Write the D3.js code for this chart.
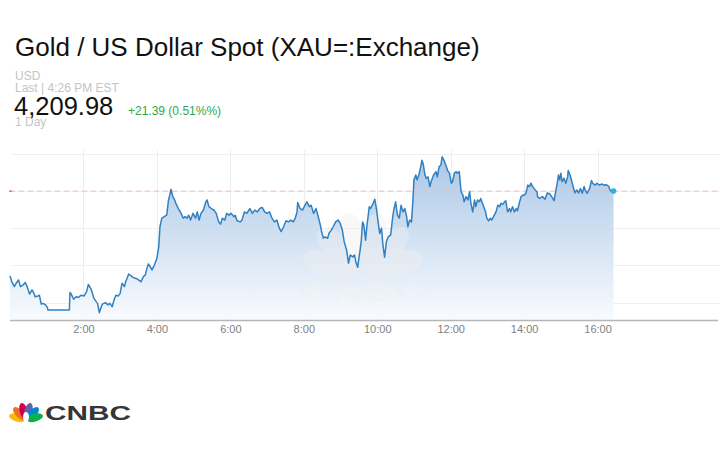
<!DOCTYPE html>
<html>
<head>
<meta charset="utf-8">
<script src="https://cdn.jsdelivr.net/npm/d3@7"></script>
<style>
  body { margin: 0; background: #fff; }
  svg { display: block; font-family: "Liberation Sans", Arial, sans-serif; }
</style>
</head>
<body>
<svg id="chart" width="720" height="450"></svg>
<script>
const width = 720;
const height = 450;

const title = "Gold / US Dollar Spot (XAU=:Exchange)";
const currency = "USD";
const lastLabel = "Last | 4:26 PM EST";
const lastPrice = 4209.98;
const changeLabel = "+21.39 (0.51%%)";
const rangeLabel = "1 Day";

// x ticks, minutes after midnight (EST)
const tickMinutes = [120, 240, 360, 480, 600, 720, 840, 960];
// horizontal grid levels
const gridPrices = [4180, 4190, 4200, 4210, 4220];

// intraday series
const times = [
  0, 3, 7, 10, 14, 17, 21, 25, 28, 32, 36, 39, 41, 46, 48, 51, 54, 58, 61, 62,
  97, 98,
  100, 104, 108, 112, 116, 121, 125, 128, 133, 137, 141,
  143, 146, 149, 151, 156, 160, 163, 167, 170, 173, 177, 180,
  183, 187, 189, 194, 198, 201, 206, 210, 214, 218, 221, 223,
  226, 229, 232, 236, 240, 243, 245, 248, 252, 256,
  259, 261, 263, 266, 269, 271, 275, 279, 283, 286,
  289, 292, 295, 299, 303, 306, 309, 312, 316, 320, 322, 325, 329, 333, 337,
  341, 344, 347, 351, 354, 358, 361, 366, 368, 371, 376, 379, 383, 387,
  392, 396, 400, 404, 408, 412, 416, 420, 424, 428,
  432, 436, 440, 443, 447, 451, 455, 459, 463, 466, 469,
  470, 474, 478, 482, 485, 489, 492, 496, 500, 503,
  507, 509, 512, 515, 519, 521, 525, 528, 532, 536, 539,
  543, 546, 550, 553, 556, 560, 563, 565, 568, 570,
  572, 574, 576, 578, 581, 583, 587, 589, 592,
  596, 599, 601, 604, 607, 609, 612, 615, 618, 622,
  625, 627, 630, 633, 636, 639, 642, 645, 648, 650, 653, 656,
  658, 660, 663, 665, 668, 671, 673, 675, 678, 680, 683,
  686, 688, 692, 696, 698, 701, 704, 706, 709, 712,
  715, 718, 721, 723, 726, 729, 731, 734,
  737, 740, 742, 745, 748, 751, 753, 756, 759, 761, 764, 767, 769,
  774, 777, 779, 782, 785, 787, 790, 794, 797, 800, 802, 805, 808, 810,
  813, 816, 818, 821, 824, 827, 829, 832, 835, 838, 840, 843,
  846, 849, 851, 854, 858, 861,
  862, 865, 870, 874, 878, 882, 885, 889, 891,
  894, 896, 898, 900, 902, 905, 908, 911, 912, 915, 918, 920,
  923, 926, 929, 932, 935, 938, 940, 943, 947,
  950, 952, 956, 959, 963, 967, 970, 974, 978, 981, 984, 986
];
const prices = [
  4187.2, 4185.6, 4184.3, 4185.2, 4186.1, 4184.3, 4184.7, 4185.4, 4184.3, 4182.3, 4183.4, 4182.5, 4181.6, 4181.8, 4182.0, 4179.6, 4179.8, 4179.4, 4178.7, 4178.0,
  4178.0, 4182.7,
  4182.3, 4180.9, 4181.6, 4181.4, 4182.0, 4181.8, 4182.9, 4184.9, 4183.4, 4181.2, 4180.2,
  4179.8, 4177.3, 4178.9, 4179.6, 4180.0, 4179.4, 4179.8, 4178.9, 4180.7, 4182.0, 4181.8, 4182.5,
  4185.2, 4184.3, 4185.6, 4187.7, 4187.2, 4186.8, 4186.5, 4186.1, 4185.6, 4187.0, 4187.4, 4188.8,
  4190.4, 4189.7, 4188.8, 4190.1, 4191.9, 4195.0, 4200.4, 4202.7, 4203.1, 4203.5,
  4207.6, 4208.9, 4210.5, 4208.5, 4207.6, 4206.7, 4205.3, 4204.2, 4202.7, 4203.1,
  4202.7, 4203.5, 4202.2, 4204.0, 4202.7, 4204.4, 4202.2, 4204.0, 4204.9, 4207.1, 4207.6, 4205.8, 4205.3, 4204.9, 4204.0,
  4201.7, 4201.1, 4202.7, 4202.2, 4204.0, 4203.5, 4204.0, 4203.1, 4203.5, 4202.0, 4201.7, 4202.2, 4204.4, 4204.0,
  4205.3, 4204.0, 4204.9, 4204.4, 4205.3, 4205.6, 4204.4, 4204.0, 4204.4, 4202.7,
  4201.7, 4202.2, 4200.0, 4199.1, 4200.4, 4202.0, 4201.7, 4202.2, 4201.7, 4202.7, 4204.4,
  4206.9, 4205.3, 4204.9, 4206.2, 4207.1, 4205.8, 4206.2, 4204.0, 4205.3, 4203.5,
  4200.9, 4199.1, 4197.3, 4197.7, 4197.3, 4198.6, 4199.5, 4200.4, 4201.7, 4202.2, 4201.5,
  4199.5, 4196.4, 4194.1, 4190.6, 4192.8, 4192.3, 4192.8, 4191.0, 4189.5, 4191.9,
  4194.1, 4196.8, 4201.7, 4200.9, 4196.8, 4200.4, 4205.8, 4205.3, 4206.2,
  4207.8, 4204.9, 4202.2, 4198.6, 4200.0, 4195.9, 4192.2, 4196.4, 4197.7, 4198.2,
  4202.7, 4204.9, 4207.1, 4203.5, 4202.7, 4206.2, 4204.4, 4205.3, 4203.1, 4200.4, 4202.2, 4201.7,
  4206.7, 4213.0, 4214.3, 4213.0, 4214.3, 4216.5, 4218.3, 4217.4, 4214.3, 4213.4, 4213.8,
  4211.2, 4212.5, 4214.3, 4215.2, 4213.8, 4216.5, 4217.0, 4219.2, 4218.3, 4217.0,
  4215.5, 4214.8, 4212.1, 4212.5, 4214.8, 4215.2, 4214.8, 4215.2,
  4209.8, 4208.9, 4207.1, 4208.5, 4207.6, 4209.8, 4206.7, 4204.4, 4207.6, 4205.8, 4207.6, 4207.1, 4208.0,
  4205.8, 4204.4, 4202.7, 4202.0, 4202.7, 4202.2, 4203.1, 4204.4, 4206.2, 4205.8, 4206.7, 4206.4, 4207.1, 4207.4,
  4204.4, 4205.3, 4204.4, 4205.8, 4204.4, 4205.3, 4204.7, 4206.7, 4208.5, 4208.9, 4208.9, 4209.4,
  4211.6, 4211.2, 4212.1, 4211.2, 4210.3, 4209.8,
  4208.5, 4208.0, 4208.5, 4207.8, 4209.5, 4209.2, 4208.5, 4207.4, 4209.4,
  4212.1, 4214.3, 4213.0, 4214.8, 4212.5, 4213.4, 4212.1, 4213.8, 4215.5, 4214.3, 4212.5, 4211.2,
  4209.5, 4210.3, 4209.5, 4210.7, 4209.4, 4211.2, 4210.1, 4209.4, 4210.7,
  4212.8, 4212.1, 4211.6, 4212.1, 4211.6, 4211.9, 4211.6, 4211.7, 4211.3, 4210.1, 4209.8, 4209.98
];

// peacock feathers, left to right
const feathers = ["#fcb711", "#f37021", "#cc004c", "#6460aa", "#0089d0", "#0db14b"];
const featherAngles = [-75, -45, -15, 15, 45, 75];

const data = d3.zip(times, prices).map(([t, p]) => ({ t, p }));

const svg = d3.select("#chart");

const x = d3.scaleLinear()
    .domain([0, 1160])
    .range([10, 720]);

const y = d3.scaleLinear()
    .domain([4175.6, 4221.3])
    .range([319, 149]);

// Header text
svg.append("text")
    .attr("x", 15).attr("y", 56)
    .attr("font-size", 26)
    .attr("fill", "#111")
    .text(title);

svg.append("text")
    .attr("x", 15).attr("y", 80)
    .attr("font-size", 12).attr("fill", "#c4c4c4")
    .text(currency);

svg.append("text")
    .attr("x", 15).attr("y", 92)
    .attr("font-size", 12).attr("fill", "#c4c4c4")
    .text(lastLabel);

svg.append("text")
    .attr("x", 14).attr("y", 115)
    .attr("font-size", 25.5).attr("fill", "#111")
    .text(d3.format(",.2f")(lastPrice));

svg.append("text")
    .attr("x", 128).attr("y", 115)
    .attr("font-size", 12).attr("fill", "#2fa84f")
    .text(changeLabel);

svg.append("text")
    .attr("x", 15).attr("y", 126)
    .attr("font-size", 12).attr("fill", "#c4c4c4")
    .text(rangeLabel);

// gradient for the area
const grad = svg.append("defs").append("linearGradient")
    .attr("id", "areaFill")
    .attr("gradientUnits", "userSpaceOnUse")
    .attr("x1", 0).attr("y1", y(4220)).attr("x2", 0).attr("y2", y.range()[0]);
grad.append("stop").attr("offset", 0).attr("stop-color", "#aac6e6");
grad.append("stop").attr("offset", 1).attr("stop-color", "#f8fbfe");

// Grid
svg.append("g")
    .selectAll("line")
    .data(gridPrices)
    .join("line")
    .attr("x1", 11).attr("x2", 720)
    .attr("y1", d => Math.round(y(d)) + 0.5)
    .attr("y2", d => Math.round(y(d)) + 0.5)
    .attr("stroke", "#efefef");

svg.append("g")
    .selectAll("line")
    .data(tickMinutes)
    .join("line")
    .attr("x1", d => Math.round(x(d)) + 0.5)
    .attr("x2", d => Math.round(x(d)) + 0.5)
    .attr("y1", 150).attr("y2", 320)
    .attr("stroke", "#eeeeee");

// Area + line
const area = d3.area()
    .x(d => x(d.t))
    .y0(y.range()[0])
    .y1(d => y(d.p));

const line = d3.line()
    .x(d => x(d.t))
    .y(d => y(d.p));

svg.append("path")
    .datum(data)
    .attr("d", area)
    .attr("fill", "url(#areaFill)");

// faint watermark
const wm = svg.append("g")
    .attr("fill", "#f0f0f0")
    .attr("opacity", 0.42);

wm.selectAll("ellipse")
    .data(featherAngles)
    .join("ellipse")
    .attr("cx", 0).attr("cy", -33)
    .attr("rx", 13).attr("ry", 29)
    .attr("transform", a => `translate(363,273) rotate(${a})`);

wm.append("text")
    .attr("x", 363).attr("y", 301)
    .attr("text-anchor", "middle")
    .attr("font-size", 27)
    .attr("font-weight", "bold")
    .attr("textLength", 125)
    .attr("lengthAdjust", "spacingAndGlyphs")
    .text("CNBC");

// last price dashed line
svg.append("line")
    .attr("x1", 10).attr("x2", 720)
    .attr("y1", y(lastPrice)).attr("y2", y(lastPrice))
    .attr("stroke", "#f0bcbc")
    .attr("stroke-dasharray", "5,4");

svg.append("line")
    .attr("x1", 9).attr("x2", 12)
    .attr("y1", y(lastPrice)).attr("y2", y(lastPrice))
    .attr("stroke", "#d04040");

svg.append("path")
    .datum(data)
    .attr("d", line)
    .attr("fill", "none")
    .attr("stroke", "#3180c2")
    .attr("stroke-width", 1.5)
    .attr("stroke-linejoin", "round");

const last = data[data.length - 1];
svg.append("circle")
    .attr("cx", x(last.t)).attr("cy", y(last.p))
    .attr("r", 2.8)
    .attr("fill", "#2fb0ee");

// X axis
const xAxis = svg.append("g")
    .attr("transform", "translate(0,320)")
    .call(d3.axisBottom(x)
        .tickValues(tickMinutes)
        .tickFormat(m => `${m / 60}:00`)
        .tickSize(0)
        .tickPadding(5));

xAxis.select(".domain").remove();
xAxis.selectAll("text")
    .attr("fill", "#808080")
    .attr("font-size", 11)
    .attr("font-family", "Liberation Sans, Arial, sans-serif");

svg.append("line")
    .attr("x1", 10).attr("x2", 718)
    .attr("y1", 320.5).attr("y2", 320.5)
    .attr("stroke", "#b5b5b5")
    .attr("stroke-width", 1.5);

// CNBC logo bottom left
const logo = svg.append("g");

logo.selectAll("ellipse")
    .data(featherAngles)
    .join("ellipse")
    .attr("cx", 0).attr("cy", -9)
    .attr("rx", 4).attr("ry", 8.5)
    .attr("fill", (a, i) => feathers[i])
    .attr("transform", a => `translate(26,420) rotate(${a})`);

logo.append("ellipse")
    .attr("cx", 26).attr("cy", 417)
    .attr("rx", 3).attr("ry", 5)
    .attr("fill", "#fff");

logo.append("text")
    .attr("x", 45).attr("y", 419.5)
    .attr("font-size", 20)
    .attr("font-weight", "bold")
    .attr("fill", "#363636")
    .attr("textLength", 86)
    .attr("lengthAdjust", "spacingAndGlyphs")
    .text("CNBC");
</script>
</body>
</html>
